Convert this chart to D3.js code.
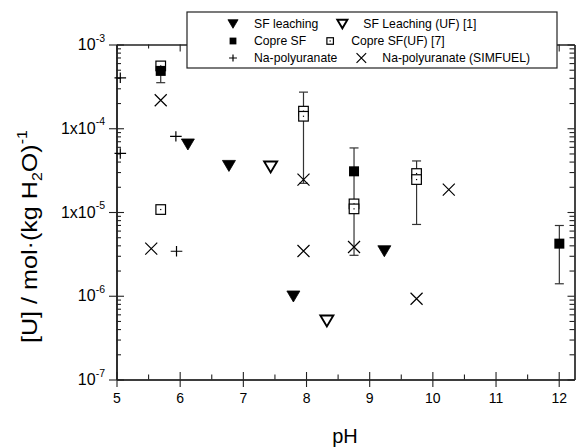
<!DOCTYPE html>
<html><head><meta charset="utf-8">
<script src="https://cdn.jsdelivr.net/npm/d3@7"></script>
<style>
html,body{margin:0;padding:0;background:#fff;}
svg{display:block;font-family:"Liberation Sans",Arial,Helvetica,sans-serif;}
</style></head>
<body><svg id="c" width="576" height="448"></svg>
<script>
// ---- data ----
const sfLeachPH = [6.13, 6.78, 7.80, 9.24];
const sfLeachU  = [6.4e-5, 3.55e-5, 9.8e-7, 3.4e-6];
const sfLeachUFPH = [7.44, 8.33];
const sfLeachUFU  = [3.45e-5, 5.0e-7];
const copreSFPH = [5.70, 8.76, 12.01];
const copreSFU  = [4.84e-4, 3.06e-5, 4.19e-6];
const copreSFUFPH = [5.70, 5.70, 7.96, 7.96, 8.76, 8.76, 9.75, 9.75];
const copreSFUFU  = [5.55e-4, 1.07e-5, 1.60e-4, 1.39e-4, 1.25e-5, 1.09e-5, 2.88e-5, 2.44e-5];
const naPolyPH = [5.06, 5.06, 5.94, 5.95];
const naPolyU  = [4.0e-4, 5.0e-5, 8.0e-5, 3.4e-6];
const naSimPH = [5.55, 5.70, 7.96, 7.96, 8.76, 9.75, 10.26];
const naSimU  = [3.66e-6, 2.16e-4, 2.44e-5, 3.42e-6, 3.82e-6, 9.2e-7, 1.85e-5];
const errPH = [5.70, 7.96, 8.76, 9.75, 12.01];
const errLo = [3.5e-4, 2.2e-5, 3.04e-6, 7.1e-6, 1.39e-6];
const errHi = [5.6e-4, 2.7e-4, 5.82e-5, 4.07e-5, 6.9e-6];
const xTicks = [5, 6, 7, 8, 9, 10, 11, 12];
const xMinorTicks = [5.5, 6.5, 7.5, 8.5, 9.5, 10.5, 11.5];
const yTicks = [1e-7, 1e-6, 1e-5, 1e-4, 1e-3];
const yTickBase = ["10", "10", "1x10", "1x10", "10"];
const yTickExp = ["-7", "-6", "-5", "-4", "-3"];
const legendRows = [
  [["triF", "SF leaching"], ["triO", "SF Leaching (UF) [1]"]],
  [["sqF", "Copre SF"], ["sqO", "Copre SF(UF) [7]"]],
  [["plus", "Na-polyuranate"], ["cross", "Na-polyuranate (SIMFUEL)"]]
];

// ---- chart ----
const svg = d3.select("#c");
const ink = "#222";
const x = d3.scaleLinear().domain([5, 12.25]).range([116.5, 574.5]);
const y = d3.scaleLog().domain([1e-7, 1e-3]).range([379.5, 44.5]);
const yMinor = [];
for (let e = -7; e < -3; e++) for (let k = 2; k <= 9; k++) yMinor.push(k * Math.pow(10, e));

const X0 = x.range()[0], X1 = x.range()[1], Y0 = y.range()[0], Y1 = y.range()[1];

function styleAxis(g) {
  g.selectAll("path.domain").attr("stroke", ink).attr("stroke-width", 1.2);
  g.selectAll(".tick line").attr("stroke", ink).attr("stroke-width", 1.1);
}

// bottom axis: labelled outward ticks + inward major/minor
const gb = svg.append("g").attr("transform", `translate(0,${Y0})`)
  .call(d3.axisBottom(x).tickValues(xTicks).tickSize(7.5).tickSizeOuter(0).tickPadding(6).tickFormat(d3.format("d")));
gb.call(styleAxis);
gb.selectAll(".tick text").attr("font-size", 14).attr("fill", "#000").attr("font-family", "Liberation Sans, Arial");
svg.append("g").attr("transform", `translate(0,${Y0})`)
  .call(d3.axisTop(x).tickValues(xTicks).tickSize(7.5).tickSizeOuter(0).tickFormat("")).call(styleAxis);
svg.append("g").attr("transform", `translate(0,${Y0})`)
  .call(d3.axisTop(x).tickValues(xMinorTicks).tickSize(5).tickSizeOuter(0).tickFormat("")).call(styleAxis);

// left axis
const gl = svg.append("g").attr("transform", `translate(${X0},0)`)
  .call(d3.axisLeft(y).tickValues(yTicks).tickSize(7.5).tickSizeOuter(0).tickFormat(""));
gl.call(styleAxis);
svg.append("g").attr("transform", `translate(${X0},0)`)
  .call(d3.axisRight(y).tickValues(yTicks).tickSize(7.5).tickSizeOuter(0).tickFormat("")).call(styleAxis);
svg.append("g").attr("transform", `translate(${X0},0)`)
  .call(d3.axisRight(y).tickValues(yMinor).tickSize(4.5).tickSizeOuter(0).tickFormat("")).call(styleAxis);
// y tick labels with superscripts
const yl = svg.append("g");
yTicks.forEach((v, i) => {
  const t = yl.append("text").attr("x", 105).attr("y", y(v) + 5.5)
    .attr("text-anchor", "end").attr("font-size", 16).attr("fill", "#000");
  t.append("tspan").text(yTickBase[i]);
  t.append("tspan").attr("font-size", 10.5).attr("dy", -8.5).text(yTickExp[i]);
});

// right axis
svg.append("g").attr("transform", `translate(${X1},0)`)
  .call(d3.axisLeft(y).tickValues(yTicks).tickSize(7).tickSizeOuter(0).tickFormat("")).call(styleAxis);
svg.append("g").attr("transform", `translate(${X1},0)`)
  .call(d3.axisLeft(y).tickValues(yMinor).tickSize(5).tickSizeOuter(0).tickFormat("")).call(styleAxis);

// top axis
svg.append("g").attr("transform", `translate(0,${Y1})`)
  .call(d3.axisBottom(x).tickValues(xTicks).tickSize(7).tickSizeOuter(0).tickFormat("")).call(styleAxis);
svg.append("g").attr("transform", `translate(0,${Y1})`)
  .call(d3.axisBottom(x).tickValues(xMinorTicks).tickSize(4).tickSizeOuter(0).tickFormat("")).call(styleAxis);

// error bars
const eb = svg.append("g").attr("stroke", "#333").attr("stroke-width", 1.2);
errPH.forEach((p, i) => {
  const cx = x(p);
  eb.append("line").attr("x1", cx).attr("x2", cx).attr("y1", y(errLo[i])).attr("y2", y(errHi[i]));
  eb.append("line").attr("x1", cx - 4.5).attr("x2", cx + 4.5).attr("y1", y(errLo[i])).attr("y2", y(errLo[i]));
  eb.append("line").attr("x1", cx - 4.5).attr("x2", cx + 4.5).attr("y1", y(errHi[i])).attr("y2", y(errHi[i]));
});

// marker drawing
function marker(g, type, cx, cy, s) {
  if (type === "triF" || type === "triO") {
    const w = 6.5 * s, h = 5.5 * s;
    g.append("path").attr("d", `M${cx - w},${cy - h}L${cx + w},${cy - h}L${cx},${cy + h}Z`)
      .attr("fill", type === "triF" ? "#000" : "#fff").attr("stroke", "#000")
      .attr("stroke-width", type === "triF" ? 0.8 : 1.9).attr("stroke-linejoin", "miter");
  } else if (type === "sqF") {
    const h = 5 * s;
    g.append("rect").attr("x", cx - h).attr("y", cy - h).attr("width", 2 * h).attr("height", 2 * h).attr("fill", "#000");
  } else if (type === "sqO") {
    const h = 4.8 * s;
    g.append("rect").attr("x", cx - h).attr("y", cy - h).attr("width", 2 * h).attr("height", 2 * h)
      .attr("fill", "#fff").attr("stroke", "#000").attr("stroke-width", 1.2);
    g.append("rect").attr("x", cx - 0.6).attr("y", cy - 0.6).attr("width", 1.2).attr("height", 1.2).attr("fill", "#000");
  } else if (type === "plus") {
    const h = 5.8 * s;
    g.append("path").attr("d", `M${cx - h},${cy}H${cx + h}M${cx},${cy - h * 0.9}V${cy + h * 0.9}`)
      .attr("stroke", "#000").attr("stroke-width", 1.2).attr("fill", "none");
  } else if (type === "cross") {
    const h = 6 * s;
    g.append("path").attr("d", `M${cx - h},${cy - h}L${cx + h},${cy + h}M${cx - h},${cy + h}L${cx + h},${cy - h}`)
      .attr("stroke", "#000").attr("stroke-width", 1.2).attr("fill", "none");
  }
}

const pts = svg.append("g");
sfLeachPH.forEach((p, i) => marker(pts, "triF", x(p), y(sfLeachU[i]), 1));
sfLeachUFPH.forEach((p, i) => marker(pts, "triO", x(p), y(sfLeachUFU[i]), 1));
copreSFUFPH.forEach((p, i) => marker(pts, "sqO", x(p), y(copreSFUFU[i]), 1));
copreSFPH.forEach((p, i) => marker(pts, "sqF", x(p), y(copreSFU[i]), 1));
naPolyPH.forEach((p, i) => marker(pts, "plus", x(p), y(naPolyU[i]), 1));
naSimPH.forEach((p, i) => marker(pts, "cross", x(p), y(naSimU[i]), 1));

// legend
const lg = svg.append("g");
lg.append("rect").attr("x", 187).attr("y", 12).attr("width", 370).attr("height", 56)
  .attr("fill", "#fff").attr("stroke", ink).attr("stroke-width", 1.2);
legendRows.forEach((row, r) => {
  const cy = 24 + r * 17;
  let cx = 233;
  row.forEach(([sym, label], j) => {
    marker(lg, sym, cx, cy, sym === "cross" ? 0.8 : (sym.startsWith("tri") ? 0.78 : 0.68));
    const t = lg.append("text").attr("x", cx + 21).attr("y", cy + 4.3)
      .attr("font-size", 12.2).attr("fill", "#000").text(label);
    cx = cx + 21 + t.node().getComputedTextLength() + 24;
  });
});

// axis titles
svg.append("text").attr("x", 345).attr("y", 443).attr("text-anchor", "middle")
  .attr("font-size", 20).attr("fill", "#000").text("pH");
const yt = svg.append("text").attr("font-size", 22).attr("fill", "#000");
yt.append("tspan").text("[U] / mol·(kg H");
yt.append("tspan").attr("font-size", 14).attr("dy", 5).text("2");
yt.append("tspan").attr("dy", -5).text("O)");
yt.append("tspan").attr("font-size", 14).attr("dy", -10).text("-1");
const tw = yt.node().getComputedTextLength();
const sx = 213 / tw;
yt.attr("transform", `translate(37,343) rotate(-90) scale(${sx},1)`);
</script></body></html>
